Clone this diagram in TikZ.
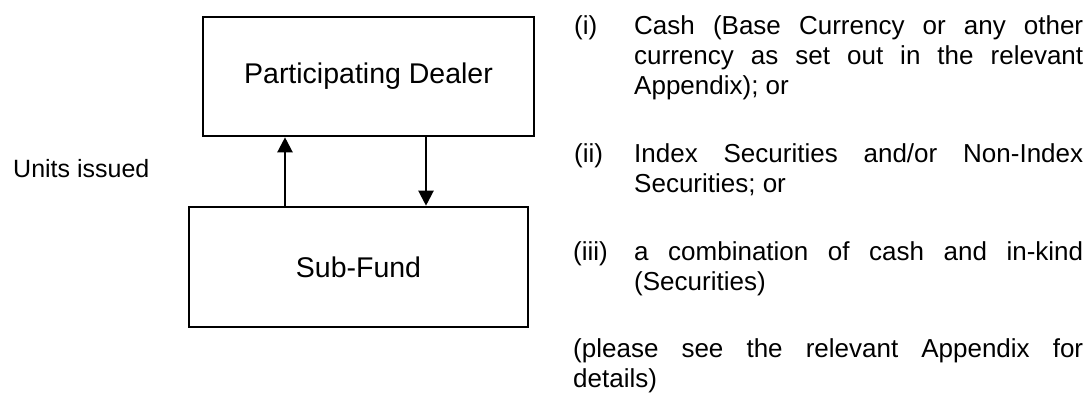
\documentclass[tikz,border=0pt]{standalone}
\usepackage{fontspec}
\setmainfont{Liberation Sans}
\usetikzlibrary{positioning,arrows.meta}

\begin{document}
\begin{tikzpicture}[
    x=1pt, y=-1pt,
    party/.style={rectangle, draw=black, line width=2.6pt, inner sep=0pt,
        minimum width=331pt, minimum height=119pt, text centered,
        font=\fontsize{28.5}{32}\selectfont},
    flow/.style={line width=2.2pt, -{Triangle[length=15pt,width=15pt]}},
    note/.style={anchor=base west, inner sep=0pt,
        font=\fontsize{26}{30}\selectfont},
    itemtext/.style={note, text width=449pt, align=justify}
]
\useasboundingbox (0,0) rectangle (1090,396);

% the two parties
\node (Dealer) [party] at (368.5,76.5) {Participating Dealer};
\node (SubFund) [party, minimum width=339pt, minimum height=120pt] at (358.5,267) {Sub-Fund};

% units go up, cash or securities come down
\draw [flow] ([xshift=-73.5pt]SubFund.north) -- ([xshift=-73.5pt]SubFund.north |- Dealer.south);
\draw [flow] ([xshift=57.5pt]Dealer.south) -- ([xshift=57.5pt]Dealer.south |- SubFund.north);

\node (unitsissued) [note, font=\fontsize{25}{28}\selectfont] at (13,177) {Units issued};

% what the dealer hands over
\node (labi) [note] at (574,35) {(i)};
\node (itemi) [itemtext] at (634,35)
    {Cash (Base Currency or any other\linebreak
     currency as set out in the relevant\linebreak
     Appendix); or};
\node (labii) [note] at (574,162) {(ii)};
\node (itemii) [itemtext] at (634,162)
    {Index Securities and/or Non-Index\linebreak
     Securities; or};
\node (labiii) [note] at (573,260) {(iii)};
\node (itemiii) [itemtext] at (634,260)
    {a combination of cash and in-kind\linebreak
     (Securities)};
\node (seeappendix) [itemtext, text width=510pt] at (573,357)
    {(please see the relevant Appendix for\linebreak
     details)};
\end{tikzpicture}
\end{document}
